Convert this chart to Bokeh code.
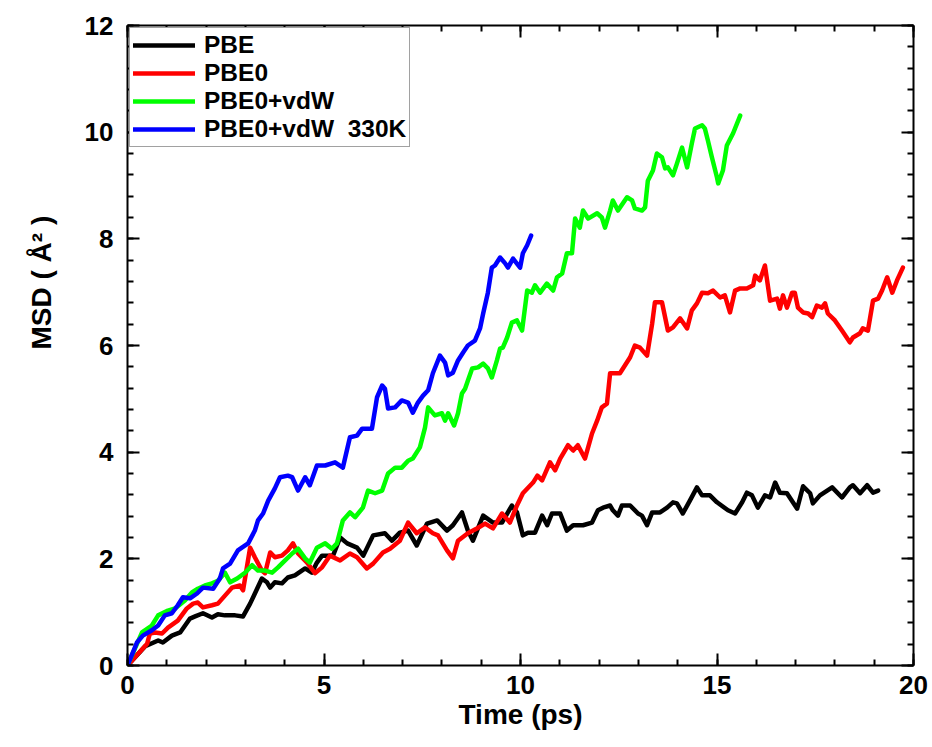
from bokeh.plotting import figure
from bokeh.models import LinearAxis, FixedTicker, Range1d, Title
from bokeh.embed import file_html
from bokeh.resources import INLINE

# ---------------- data ----------------
pbe_t = [0.00, 0.45, 0.78, 0.90, 1.13, 1.34, 1.59, 1.72, 1.92, 2.15, 2.30, 2.48, 2.74, 2.94,
         3.12, 3.42, 3.55, 3.63, 3.75, 3.93, 4.08, 4.26, 4.52, 4.69, 4.82, 4.95, 5.23, 5.41,
         5.59, 5.84, 6.00, 6.25, 6.55, 6.73, 6.93, 7.14, 7.36, 7.62, 7.88, 8.13, 8.28, 8.51,
         8.66, 8.79, 9.05, 9.30, 9.53, 9.78, 9.91, 10.06, 10.19, 10.37, 10.55, 10.68, 10.80,
         11.01, 11.18, 11.34, 11.59, 11.82, 11.97, 12.10, 12.28, 12.35, 12.48, 12.58, 12.79,
         12.99, 13.09, 13.22, 13.35, 13.55, 13.73, 13.88, 13.98, 14.13, 14.31, 14.49, 14.62,
         14.82, 15.00, 15.28, 15.46, 15.64, 15.76, 15.89, 16.04, 16.22, 16.35, 16.48, 16.60,
         16.78, 17.04, 17.19, 17.37, 17.44, 17.62, 17.93, 18.18, 18.38, 18.46, 18.64, 18.82,
         18.97, 19.10]
pbe_msd = [0.00, 0.36, 0.47, 0.43, 0.56, 0.62, 0.88, 0.92, 0.98, 0.90, 0.96, 0.94, 0.94, 0.92,
           1.16, 1.63, 1.56, 1.46, 1.56, 1.54, 1.65, 1.69, 1.82, 1.74, 1.93, 2.06, 2.06, 2.40,
           2.29, 2.21, 2.06, 2.44, 2.48, 2.34, 2.49, 2.53, 2.25, 2.66, 2.72, 2.53, 2.63, 2.87,
           2.53, 2.34, 2.81, 2.68, 2.68, 3.00, 2.87, 2.44, 2.49, 2.49, 2.81, 2.63, 2.85,
           2.85, 2.53, 2.63, 2.63, 2.68, 2.91, 2.96, 3.00, 2.91, 2.81, 3.00, 3.00,
           2.85, 2.81, 2.63, 2.87, 2.87, 2.96, 3.06, 3.04, 2.85, 3.09, 3.34, 3.19,
           3.19, 3.06, 2.91, 2.85, 3.06, 3.24, 3.19, 2.96, 3.19, 3.15, 3.43, 3.24,
           3.23, 2.94, 3.36, 3.23, 3.04, 3.19, 3.34, 3.15, 3.34, 3.38, 3.23, 3.38,
           3.24, 3.28]

pbe0_t = [0.00, 0.50, 0.57, 0.70, 0.88, 1.03, 1.28, 1.51, 1.67, 1.79, 1.92, 2.15, 2.30, 2.48,
          2.66, 2.86, 2.94, 3.12, 3.24, 3.42, 3.50, 3.63, 3.75, 3.93, 4.08, 4.21, 4.34, 4.57,
          4.77, 4.95, 5.15, 5.41, 5.66, 5.84, 6.09, 6.25, 6.50, 6.68, 6.93, 7.14, 7.36, 7.57,
          7.77, 7.90, 8.13, 8.28, 8.41, 8.66, 8.89, 9.10, 9.30, 9.53, 9.73, 9.91, 10.06, 10.32,
          10.43, 10.55, 10.75, 10.88, 11.01, 11.21, 11.34, 11.46, 11.64, 11.82, 11.95, 12.07,
          12.20, 12.28, 12.53, 12.66, 12.79, 12.91, 13.04, 13.22, 13.35, 13.42, 13.60, 13.75,
          13.88, 14.06, 14.24, 14.36, 14.49, 14.62, 14.77, 14.90, 15.08, 15.20, 15.33, 15.46,
          15.59, 15.76, 15.92, 15.97, 16.09, 16.22, 16.35, 16.53, 16.60, 16.68, 16.78, 16.91,
          16.98, 17.06, 17.19, 17.32, 17.42, 17.54, 17.67, 17.75, 17.82, 18.00, 18.18, 18.38,
          18.46, 18.64, 18.71, 18.84, 18.97, 19.10, 19.20, 19.33, 19.46, 19.58, 19.73]
pbe0_msd = [0.00, 0.41, 0.60, 0.62, 0.60, 0.71, 0.84, 1.07, 1.16, 1.18, 1.09, 1.13, 1.16, 1.31,
            1.46, 1.50, 1.41, 2.21, 2.03, 1.78, 1.73, 2.12, 2.03, 2.06, 2.16, 2.29, 2.10, 1.93,
            1.73, 1.84, 2.06, 1.97, 2.10, 2.03, 1.82, 1.91, 2.12, 2.19, 2.34, 2.68, 2.48, 2.59,
            2.48, 2.44, 2.16, 2.01, 2.34, 2.48, 2.57, 2.66, 2.57, 2.85, 2.68, 3.00, 3.23, 3.43,
            3.56, 3.47, 3.81, 3.66, 3.88, 4.13, 4.03, 4.13, 3.88, 4.35, 4.59, 4.84,
            4.91, 5.48, 5.48, 5.63, 5.78, 6.00, 5.96, 5.81, 6.41, 6.81, 6.81, 6.28,
            6.34, 6.51, 6.32, 6.66, 6.79, 6.99, 6.98, 7.03, 6.90, 6.94, 6.62, 7.03,
            7.07, 7.07, 7.13, 7.31, 7.22, 7.50, 6.84, 6.88, 6.69, 6.94, 6.71, 6.99,
            6.99, 6.71, 6.62, 6.60, 6.53, 6.75, 6.71, 6.79, 6.60, 6.47, 6.28, 6.06,
            6.15, 6.23, 6.32, 6.28, 6.84, 6.88, 7.03, 7.28, 6.99, 7.22, 7.46]

vdw_t = [0.00, 0.37, 0.62, 0.78, 1.03, 1.21, 1.46, 1.64, 1.79, 1.97, 2.15, 2.30, 2.48, 2.61,
         2.79, 2.99, 3.17, 3.32, 3.50, 3.68, 3.83, 4.01, 4.19, 4.34, 4.52, 4.64, 4.82, 5.03,
         5.20, 5.33, 5.48, 5.66, 5.79, 5.99, 6.12, 6.30, 6.48, 6.63, 6.81, 6.98, 7.14, 7.26,
         7.44, 7.57, 7.65, 7.82, 8.00, 8.08, 8.16, 8.31, 8.41, 8.51, 8.59, 8.66, 8.77, 8.92,
         9.05, 9.17, 9.27, 9.40, 9.48, 9.55, 9.66, 9.78, 9.91, 10.04, 10.17, 10.29, 10.37,
         10.50, 10.67, 10.83, 10.93, 11.06, 11.18, 11.31, 11.39, 11.51, 11.59, 11.72, 11.95,
         12.07, 12.15, 12.28, 12.35, 12.48, 12.71, 12.84, 12.91, 13.09, 13.17, 13.24, 13.37,
         13.47, 13.60, 13.68, 13.75, 13.88, 13.98, 14.11, 14.24, 14.36, 14.44, 14.62, 14.69,
         14.77, 14.87, 15.00, 15.03, 15.15, 15.25, 15.41, 15.59]
vdw_msd = [0.00, 0.62, 0.75, 0.94, 1.03, 1.07, 1.22, 1.37, 1.44, 1.50, 1.54, 1.59, 1.74, 1.56,
           1.63, 1.74, 1.88, 1.78, 1.78, 1.74, 1.84, 1.97, 2.10, 2.19, 2.01, 1.93, 2.21, 2.29,
           2.19, 2.29, 2.72, 2.87, 2.78, 2.96, 3.28, 3.23, 3.28, 3.60, 3.71, 3.71, 3.84, 3.88,
           4.09, 4.46, 4.84, 4.69, 4.73, 4.59, 4.73, 4.50, 4.73, 5.10, 5.19, 5.34, 5.57, 5.59,
           5.66, 5.57, 5.40, 5.72, 5.94, 5.96, 6.15, 6.43, 6.47, 6.28, 7.03, 6.99, 7.13,
           6.99, 7.16, 7.03, 7.28, 7.35, 7.73, 7.73, 8.38, 8.21, 8.53, 8.38, 8.48,
           8.40, 8.21, 8.53, 8.72, 8.53, 8.78, 8.72, 8.57, 8.53, 8.59, 9.09, 9.28,
           9.60, 9.53, 9.32, 9.34, 9.19, 9.41, 9.71, 9.34, 9.79, 10.07, 10.13, 10.07,
           9.84, 9.53, 9.15, 9.04, 9.28, 9.75, 9.98, 10.31]

k330_t = [0.00, 0.24, 0.39, 0.62, 0.78, 0.95, 1.13, 1.28, 1.41, 1.59, 1.77, 1.92, 2.18, 2.35,
          2.43, 2.61, 2.81, 2.91, 3.07, 3.24, 3.32, 3.45, 3.58, 3.75, 3.88, 4.08, 4.19, 4.34,
          4.52, 4.64, 4.82, 5.03, 5.28, 5.48, 5.66, 5.84, 5.97, 6.12, 6.22, 6.35, 6.48, 6.55,
          6.63, 6.81, 6.98, 7.14, 7.26, 7.39, 7.52, 7.65, 7.77, 7.95, 8.08, 8.16, 8.28, 8.41,
          8.54, 8.66, 8.84, 8.97, 9.05, 9.17, 9.27, 9.35, 9.48, 9.61, 9.68, 9.81, 9.99, 10.06,
          10.17, 10.27]
k330_msd = [0.00, 0.43, 0.56, 0.66, 0.75, 0.94, 0.98, 1.13, 1.28, 1.26, 1.35, 1.46, 1.44, 1.63,
            1.82, 1.91, 2.16, 2.21, 2.29, 2.53, 2.72, 2.85, 3.09, 3.32, 3.53, 3.56, 3.53, 3.28,
            3.53, 3.38, 3.75, 3.75, 3.81, 3.71, 4.28, 4.31, 4.44, 4.44, 4.44, 5.03, 5.25, 5.19,
            4.82, 4.84, 4.97, 4.93, 4.74, 4.93, 5.06, 5.16, 5.48, 5.81, 5.68, 5.44, 5.49, 5.72,
            5.87, 6.00, 6.09, 6.32, 6.60, 6.99, 7.46, 7.50, 7.65, 7.54, 7.46, 7.63, 7.46, 7.73,
            7.88, 8.06]

series_labels = ["PBE", "PBE0", "PBE0+vdW", "PBE0+vdW  330K"]
series_colors = ["#000000", "#ff0000", "#00ff00", "#0000ff"]
x_major = [0, 5, 10, 15, 20]
y_major = [0, 2, 4, 6, 8, 10, 12]
x_title = "Time (ps)"
y_title = "MSD ( Å² )"

FONT = "Liberation Sans"

# ---------------- figure ----------------
p = figure(width=932, height=747, output_backend="svg", toolbar_location=None,
           x_range=Range1d(0, 20), y_range=Range1d(0, 12),
           min_border_left=127, min_border_right=19, min_border_top=25, min_border_bottom=82)
p.background_fill_color = "white"
p.border_fill_color = "white"
p.outline_line_color = None
p.xgrid.visible = False
p.ygrid.visible = False

def x_ticker():
    return FixedTicker(ticks=x_major, minor_ticks=[float(i) for i in range(0, 21)])

def y_ticker():
    return FixedTicker(ticks=y_major, minor_ticks=[round(0.4 * i, 2) for i in range(0, 31)])

def style_axis(ax, ticker, labels=True):
    ax.ticker = ticker
    ax.axis_line_width = 2
    ax.axis_line_color = "black"
    ax.major_tick_in = 12
    ax.major_tick_out = 0
    ax.minor_tick_in = 6
    ax.minor_tick_out = 0
    ax.major_tick_line_width = 2
    ax.minor_tick_line_width = 2
    ax.major_tick_line_color = "black"
    ax.minor_tick_line_color = "black"
    if labels:
        ax.major_label_text_font = FONT
        ax.major_label_text_font_style = "bold"
        ax.major_label_text_font_size = "26px"
        ax.major_label_text_color = "black"
        ax.axis_label_text_font = FONT
        ax.axis_label_text_font_style = "bold"
        ax.axis_label_text_font_size = "28px"
        ax.axis_label_text_color = "black"
    else:
        ax.major_label_text_color = None
        ax.major_label_text_font_size = "0px"
        ax.major_label_standoff = 0

xa = p.xaxis[0]
style_axis(xa, x_ticker())
xa.axis_label = x_title
xa.major_label_standoff = 10
xa.axis_label_standoff = 2

ya = p.yaxis[0]
style_axis(ya, y_ticker())
ya.major_label_standoff = 14

top = LinearAxis()
style_axis(top, x_ticker(), labels=False)
p.add_layout(top, "above")
right = LinearAxis()
style_axis(right, y_ticker(), labels=False)
p.add_layout(right, "right")

# y-axis title as a side title, shifted above centre as in the reference
ytitle = Title(text=y_title, align="left", offset=316, standoff=46,
               vertical_align="top",
               text_font=FONT, text_font_style="bold", text_font_size="28px",
               text_color="black")
p.add_layout(ytitle, "left")

data = [(pbe_t, pbe_msd), (pbe0_t, pbe0_msd), (vdw_t, vdw_msd), (k330_t, k330_msd)]
for (t, m), lab, col in zip(data, series_labels, series_colors):
    p.line(t, m, line_color=col, line_width=4.5, line_join="round", line_cap="round",
           legend_label=lab)

lg = p.legend[0]
lg.location = "top_left"
lg.margin = 2
lg.padding = 3
lg.spacing = 0
lg.glyph_width = 62
lg.glyph_height = 24
lg.label_standoff = 9
lg.label_text_font = FONT
lg.label_text_font_style = "bold"
lg.label_text_font_size = "24.5px"
lg.label_text_color = "black"
lg.border_line_color = "#444444"
lg.border_line_width = 1
lg.background_fill_color = "white"
lg.background_fill_alpha = 1.0

open("out.html", "w").write(file_html(p, INLINE))
